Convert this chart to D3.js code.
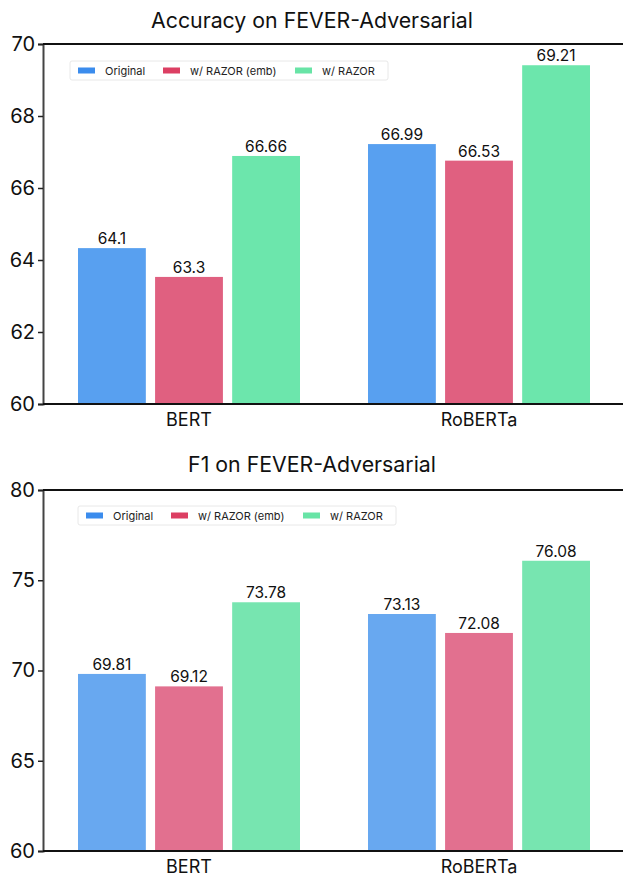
<!DOCTYPE html>
<html><head><meta charset="utf-8">
<script src="https://cdn.jsdelivr.net/npm/d3@7"></script>
<style>body{margin:0;background:#fff;} svg{display:block;font-family:Inter,"Noto Sans",sans-serif;font-weight:400;}</style>
</head><body>
<svg id="c" width="623" height="876"></svg>
<script>
const models = ["BERT", "RoBERTa"];
const series = ["Original", "w/ RAZOR (emb)", "w/ RAZOR"];
const legendColors = ["#3b8ced", "#dc3f63", "#68e4a6"];
const accColors = ["#58a0f0", "#e06080", "#6ce6ac"];
const f1Colors = ["#68a8f0", "#e2708f", "#77e5b0"];
// Accuracy: printed labels and the bar heights as drawn in the picture
const accLabels = [["64.1", "63.3", "66.66"], ["66.99", "66.53", "69.21"]];
const accBars = [[64.33, 63.53, 66.89], [67.22, 66.76, 69.41]];
const accTicks = [60, 62, 64, 66, 68, 70];
// F1
const f1Labels = [["69.81", "69.12", "73.78"], ["73.13", "72.08", "76.08"]];
const f1Bars = [[69.81, 69.12, 73.78], [73.13, 72.08, 76.08]];
const f1Ticks = [60, 65, 70, 75, 80];

const svg = d3.select("#c");

function panel(cfg) {
  const g = svg.append("g");
  const left = 43, right = 623;
  const y = d3.scaleLinear().domain([cfg.ticks[0], cfg.ticks[cfg.ticks.length-1]]).range([cfg.bottom, cfg.top]);
  const x0 = d3.scaleBand().domain(models).range([44, 624]).paddingInner(0).paddingOuter(0);
  const x1 = d3.scaleBand().domain(series).range([34, 256]).paddingInner(0.12).paddingOuter(0);

  g.append("text").attr("x", 312).attr("y", cfg.titleY).attr("text-anchor", "middle")
    .attr("font-size", 21.3).attr("font-weight", 400).attr("fill", "#111").text(cfg.title);

  models.forEach((m, i) => {
    series.forEach((s, j) => {
      const v = cfg.bars[i][j];
      const bx = x0(m) + x1(s);
      g.append("rect").attr("x", bx).attr("width", x1.bandwidth())
        .attr("y", y(v)).attr("height", cfg.bottom - y(v))
        .attr("fill", cfg.colors[j]);
      g.append("text").attr("x", bx + x1.bandwidth()/2).attr("y", y(v) - 4)
        .attr("text-anchor", "middle").attr("font-size", 15.5).attr("fill", "#111")
        .text(cfg.labels[i][j]);
    });
  });

  const ya = g.append("g").attr("transform", `translate(${left},0)`)
    .call(d3.axisLeft(y).tickValues(cfg.ticks).tickSize(5).tickPadding(3).tickFormat(d3.format("d")));
  ya.select(".domain").attr("stroke", "#444").attr("stroke-width", 2);
  ya.selectAll(".tick line").attr("stroke", "#222").attr("stroke-width", 1.5);
  ya.selectAll(".tick text").attr("font-size", 20).attr("fill", "#111")
    .attr("font-family", "Inter,sans-serif").attr("font-weight", 400);

  g.append("line").attr("x1", left).attr("x2", right).attr("y1", cfg.top).attr("y2", cfg.top)
    .attr("stroke", "#111").attr("stroke-width", 2);
  g.append("line").attr("x1", left).attr("x2", right).attr("y1", cfg.bottom).attr("y2", cfg.bottom)
    .attr("stroke", "#111").attr("stroke-width", 2);

  models.forEach(m => {
    g.append("text").attr("x", x0(m) + x0.bandwidth()/2).attr("y", cfg.bottom + 22)
      .attr("text-anchor", "middle").attr("font-size", 18).attr("fill", "#111").text(m);
  });

  const lg = g.append("g").attr("transform", `translate(${cfg.legX},${cfg.legY})`);
  lg.append("rect").attr("x", 0).attr("y", 0).attr("width", 318).attr("height", 19).attr("rx", 2)
    .attr("fill", "#fff").attr("stroke", "#e8e8e8");
  const offs = [0, 85, 217];
  series.forEach((s, j) => {
    lg.append("rect").attr("x", 8 + offs[j]).attr("y", 6.5).attr("width", 17).attr("height", 6).attr("fill", legendColors[j]);
    lg.append("text").attr("x", 35 + offs[j]).attr("y", 13.5).attr("font-size", 11).attr("fill", "#222").text(s);
  });
}

panel({title: "Accuracy on FEVER-Adversarial", titleY: 28, top: 44, bottom: 404, ticks: accTicks,
  bars: accBars, labels: accLabels, colors: accColors, legX: 70, legY: 61});
panel({title: "F1 on FEVER-Adversarial", titleY: 472, top: 490, bottom: 851, ticks: f1Ticks,
  bars: f1Bars, labels: f1Labels, colors: f1Colors, legX: 78, legY: 506});
</script>
</body></html>
